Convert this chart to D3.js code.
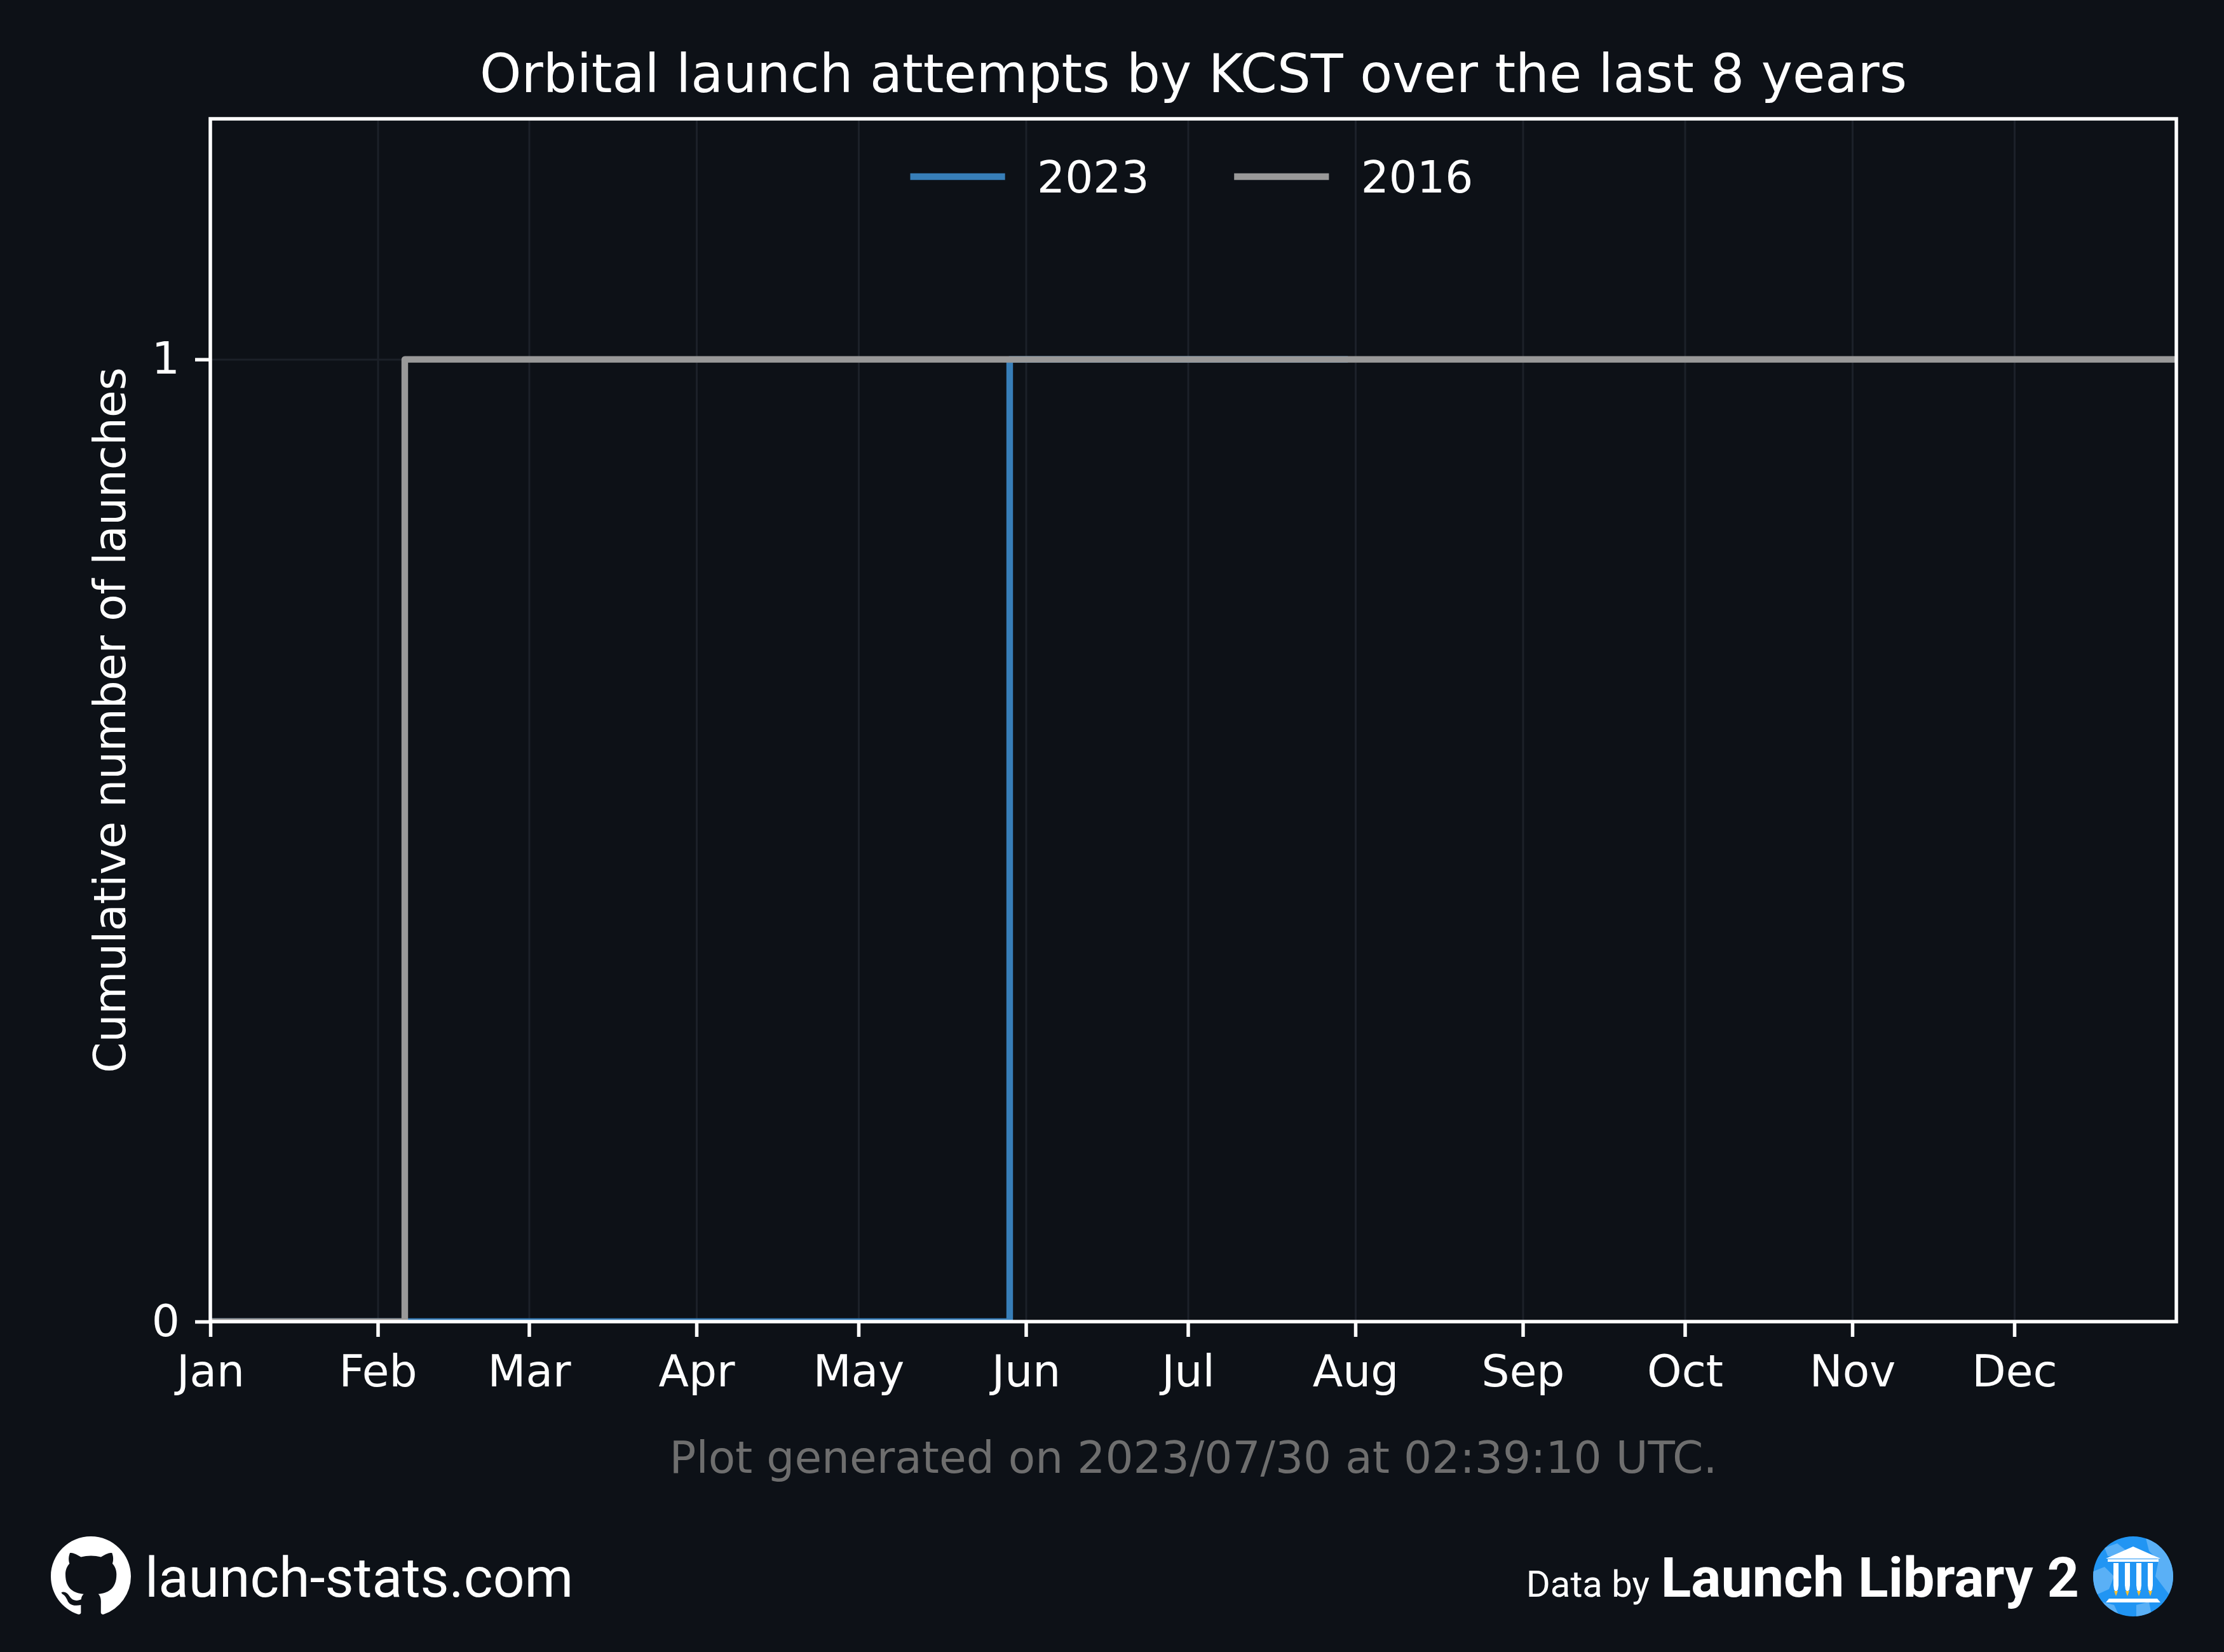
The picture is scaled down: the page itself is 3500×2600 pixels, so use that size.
<!DOCTYPE html>
<html>
<head>
<meta charset="utf-8">
<script src="https://cdn.jsdelivr.net/npm/d3@7"></script>
<style>
  body { margin: 0; background: #0d1117; }
  svg { display: block; }
</style>
</head>
<body>
<svg id="chart"></svg>
<script>
// data (month-day of each step, cumulative count)
var seriesNames = ["2023", "2016"];
var dates2023 = ["01-01", "05-29", "07-30"];
var counts2023 = [0, 1, 1];
var dates2016 = ["01-01", "02-06", "12-31"];
var counts2016 = [0, 1, 1];
var monthLabels = ["Jan", "Feb", "Mar", "Apr", "May", "Jun", "Jul", "Aug", "Sep", "Oct", "Nov", "Dec"];
var yTicks = [0, 1];

var seriesColors = ["#377eb8", "#999999"];
var bg = "#0d1117";
var W = 3500, H = 2600;
// plot box (note: "top" is a reserved window property, so prefixed names)
var pLeft = 331, pRight = 3425, pTop = 187, pBottom = 2080;
var fs = 69.4; // 10pt

var svg = d3.select("#chart").attr("width", W).attr("height", H);
svg.append("rect").attr("width", W).attr("height", H).attr("fill", bg);

function toDate(md) { return new Date("2023-" + md + "T00:00:00Z"); }

var x = d3.scaleUtc()
  .domain([toDate("01-01"), toDate("12-31")])
  .range([pLeft, pRight]);
var y = d3.scaleLinear().domain([0, 1.25]).range([pBottom, pTop]);

var months = d3.utcMonth.range(toDate("01-01"), toDate("12-31"));

// grid
svg.append("g")
  .attr("transform", "translate(0," + pBottom + ")")
  .call(d3.axisBottom(x).tickValues(months).tickSize(-(pBottom - pTop)).tickFormat("").tickSizeOuter(0))
  .call(g => g.select(".domain").remove())
  .selectAll(".tick line")
  .attr("class", "grid")
  .attr("stroke", "#1c2129")
  .attr("stroke-width", 3);

svg.append("g")
  .attr("transform", "translate(" + pLeft + ",0)")
  .call(d3.axisLeft(y).tickValues(yTicks).tickSize(-(pRight - pLeft)).tickFormat("").tickSizeOuter(0))
  .call(g => g.select(".domain").remove())
  .selectAll(".tick line")
  .attr("class", "grid")
  .attr("stroke", "#1c2129")
  .attr("stroke-width", 3);

// step lines
svg.append("clipPath").attr("id", "plot-clip")
  .append("rect").attr("x", pLeft).attr("y", pTop)
  .attr("width", pRight - pLeft).attr("height", pBottom - pTop);

var line = d3.line()
  .x(d => x(d.date))
  .y(d => y(d.count))
  .curve(d3.curveStepAfter);

var allDates = [dates2023, dates2016];
var allCounts = [counts2023, counts2016];

seriesNames.forEach(function (name, i) {
  var pts = allDates[i].map((d, j) => ({ date: toDate(d), count: allCounts[i][j] }));
  svg.append("path")
    .datum(pts)
    .attr("clip-path", "url(#plot-clip)")
    .attr("d", line)
    .attr("fill", "none")
    .attr("stroke", seriesColors[i])
    .attr("stroke-width", 10.4)
    .attr("stroke-linejoin", "round")
    .attr("stroke-linecap", "square");
});

// axes
var xAxis = svg.append("g")
  .attr("transform", "translate(0," + pBottom + ")")
  .call(d3.axisBottom(x).tickValues(months)
    .tickFormat((d, i) => monthLabels[i])
    .tickSize(24).tickPadding(29).tickSizeOuter(0));
xAxis.select(".domain").remove();

var yAxis = svg.append("g")
  .attr("transform", "translate(" + pLeft + ",0)")
  .call(d3.axisLeft(y).tickValues(yTicks).tickFormat(d3.format("d"))
    .tickSize(24).tickPadding(24).tickSizeOuter(0));
yAxis.select(".domain").remove();

[xAxis, yAxis].forEach(function (ax) {
  ax.selectAll(".tick line").attr("stroke", "#ffffff").attr("stroke-width", 5.5);
  ax.selectAll(".tick text")
    .attr("fill", "#ffffff")
    .style("font-family", "DejaVu Sans")
    .style("font-size", fs + "px");
});

// spines
svg.append("rect")
  .attr("x", pLeft).attr("y", pTop)
  .attr("width", pRight - pLeft).attr("height", pBottom - pTop)
  .attr("fill", "none").attr("stroke", "#ffffff").attr("stroke-width", 5.5);

// title and labels
var cx = (pLeft + pRight) / 2;
svg.append("text")
  .attr("x", cx).attr("y", 145)
  .attr("text-anchor", "middle")
  .attr("fill", "#ffffff")
  .style("font-family", "DejaVu Sans").style("font-size", "83.3px")
  .text("Orbital launch attempts by KCST over the last 8 years");

svg.append("text")
  .attr("transform", "translate(197," + (pTop + pBottom) / 2 + ") rotate(-90)")
  .attr("text-anchor", "middle")
  .attr("fill", "#ffffff")
  .style("font-family", "DejaVu Sans").style("font-size", fs + "px")
  .text("Cumulative number of launches");

svg.append("text")
  .attr("x", cx).attr("y", 2318)
  .attr("text-anchor", "middle")
  .attr("fill", "#6e6e6e")
  .style("font-family", "DejaVu Sans").style("font-size", fs + "px")
  .text("Plot generated on 2023/07/30 at 02:39:10 UTC.");

// legend (upper center, two columns, no frame)
var legend = svg.append("g");
var items = legend.selectAll("g").data(seriesNames).enter().append("g");
items.append("line")
  .attr("stroke", (d, i) => seriesColors[i])
  .attr("stroke-width", 10.4)
  .attr("stroke-linecap", "square");
items.append("text")
  .attr("fill", "#ffffff")
  .style("font-family", "DejaVu Sans").style("font-size", fs + "px")
  .text(d => d);
var handleLen = 2 * fs, textPad = 0.8 * fs, colSpace = 2 * fs;
var widths = [];
items.selectAll("text").each(function () { widths.push(this.getComputedTextLength()); });
var total = d3.sum(widths) + seriesNames.length * (handleLen + textPad) + (seriesNames.length - 1) * colSpace;
var lx = cx - total / 2;
items.each(function (d, i) {
  var g = d3.select(this);
  g.select("line").attr("x1", lx).attr("x2", lx + handleLen).attr("y1", pTop + 91).attr("y2", pTop + 91);
  g.select("text").attr("x", lx + handleLen + textPad).attr("y", pTop + 116);
  lx += handleLen + textPad + widths[i] + colSpace;
});

// footer: github mark + site
var gh = svg.append("g").attr("transform", "translate(80,2418) scale(7.875)");
gh.append("path")
  .attr("fill", "#ffffff")
  .attr("d", "M8 0C3.58 0 0 3.58 0 8c0 3.54 2.29 6.53 5.47 7.59.4.07.55-.17.55-.38 0-.19-.01-.82-.01-1.490-2.01.37-2.53-.49-2.69-.94-.09-.23-.48-.94-.82-1.13-.28-.15-.68-.52-.01-.53.63-.01 1.08.58 1.23.82.72 1.21 1.870.87 2.330.66.07-.52.28-.87.51-1.07-1.78-.2-3.64-.89-3.64-3.95 0-.87.31-1.590.82-2.150-.08-.2-.36-1.02.08-2.12 0 0 .67-.21 2.2.82.64-.18 1.32-.27 2-.27.68 0 1.36.09 2 .27 1.53-1.04 2.2-.82 2.2-.82.44 1.1.16 1.92.08 2.12.51.56.82 1.27.82 2.15 0 3.07-1.87 3.75-3.65 3.95.29.25.54.73.54 1.48 0 1.07-.01 1.93-.01 2.2 0 .21.15.46.55.38A8.013 8.013 0 0016 8c0-4.42-3.58-8-8-8z");

svg.append("text")
  .attr("x", 228).attr("y", 2513)
  .attr("fill", "#ffffff")
  .style("font-family", "Roboto").style("font-size", "87.5px")
  .text("launch-stats.com");

// footer: data credit + logo
svg.append("text")
  .attr("x", 3272).attr("y", 2513)
  .attr("text-anchor", "end")
  .attr("fill", "#ffffff")
  .style("font-family", "Roboto").style("font-weight", "bold").style("font-size", "88px")
  .text("Launch Library 2");
svg.append("text")
  .attr("x", 2596).attr("y", 2513)
  .attr("text-anchor", "end")
  .attr("fill", "#ffffff")
  .style("font-family", "Roboto").style("font-size", "58px")
  .text("Data by");

var logo = svg.append("g").attr("transform", "translate(3357,2481)");
logo.append("clipPath").attr("id", "globe-clip").append("circle").attr("r", 63);
logo.append("circle").attr("r", 63).attr("fill", "#2196f3");
var land = logo.append("g").attr("clip-path", "url(#globe-clip)").attr("fill", "#64b5f6").attr("opacity", 0.85);
land.append("path").attr("d", "M-45,-45 L-25,-52 L-10,-40 L-20,-30 L-40,-32 Z");
land.append("path").attr("d", "M20,-60 L45,-50 L66,-30 L66,40 L50,20 L35,0 L40,-25 L25,-40 Z");
land.append("path").attr("d", "M-70,-5 L-45,-15 L-30,0 L-38,20 L-60,30 L-70,20 Z");
land.append("path").attr("d", "M-50,40 L-30,45 L-20,66 L-60,66 Z");
land.append("path").attr("d", "M5,45 L25,40 L30,66 L5,66 Z");

var white = "#ffffff";
logo.append("path").attr("fill", white).attr("d", "M0,-47 L43,-28 L-43,-28 Z");
logo.append("rect").attr("fill", white).attr("x", -40).attr("y", -27).attr("width", 80).attr("height", 4);
[-27, -9, 9, 27].forEach(function (c) {
  logo.append("rect").attr("fill", white).attr("x", c - 4).attr("y", -21).attr("width", 8).attr("height", 35);
  logo.append("path").attr("fill", white).attr("d", "M" + (c - 4) + ",14 L" + (c + 4) + ",14 L" + (c + 3) + ",21 L" + c + ",24 L" + (c - 3) + ",21 Z");
  logo.append("path").attr("fill", "#fbc02d").attr("d", "M" + (c - 3) + ",23 L" + (c + 3) + ",23 L" + c + ",31 Z");
});
logo.append("path").attr("fill", white).attr("d", "M-38,35 L38,35 L43,41 L-43,41 Z");
</script>
</body>
</html>
